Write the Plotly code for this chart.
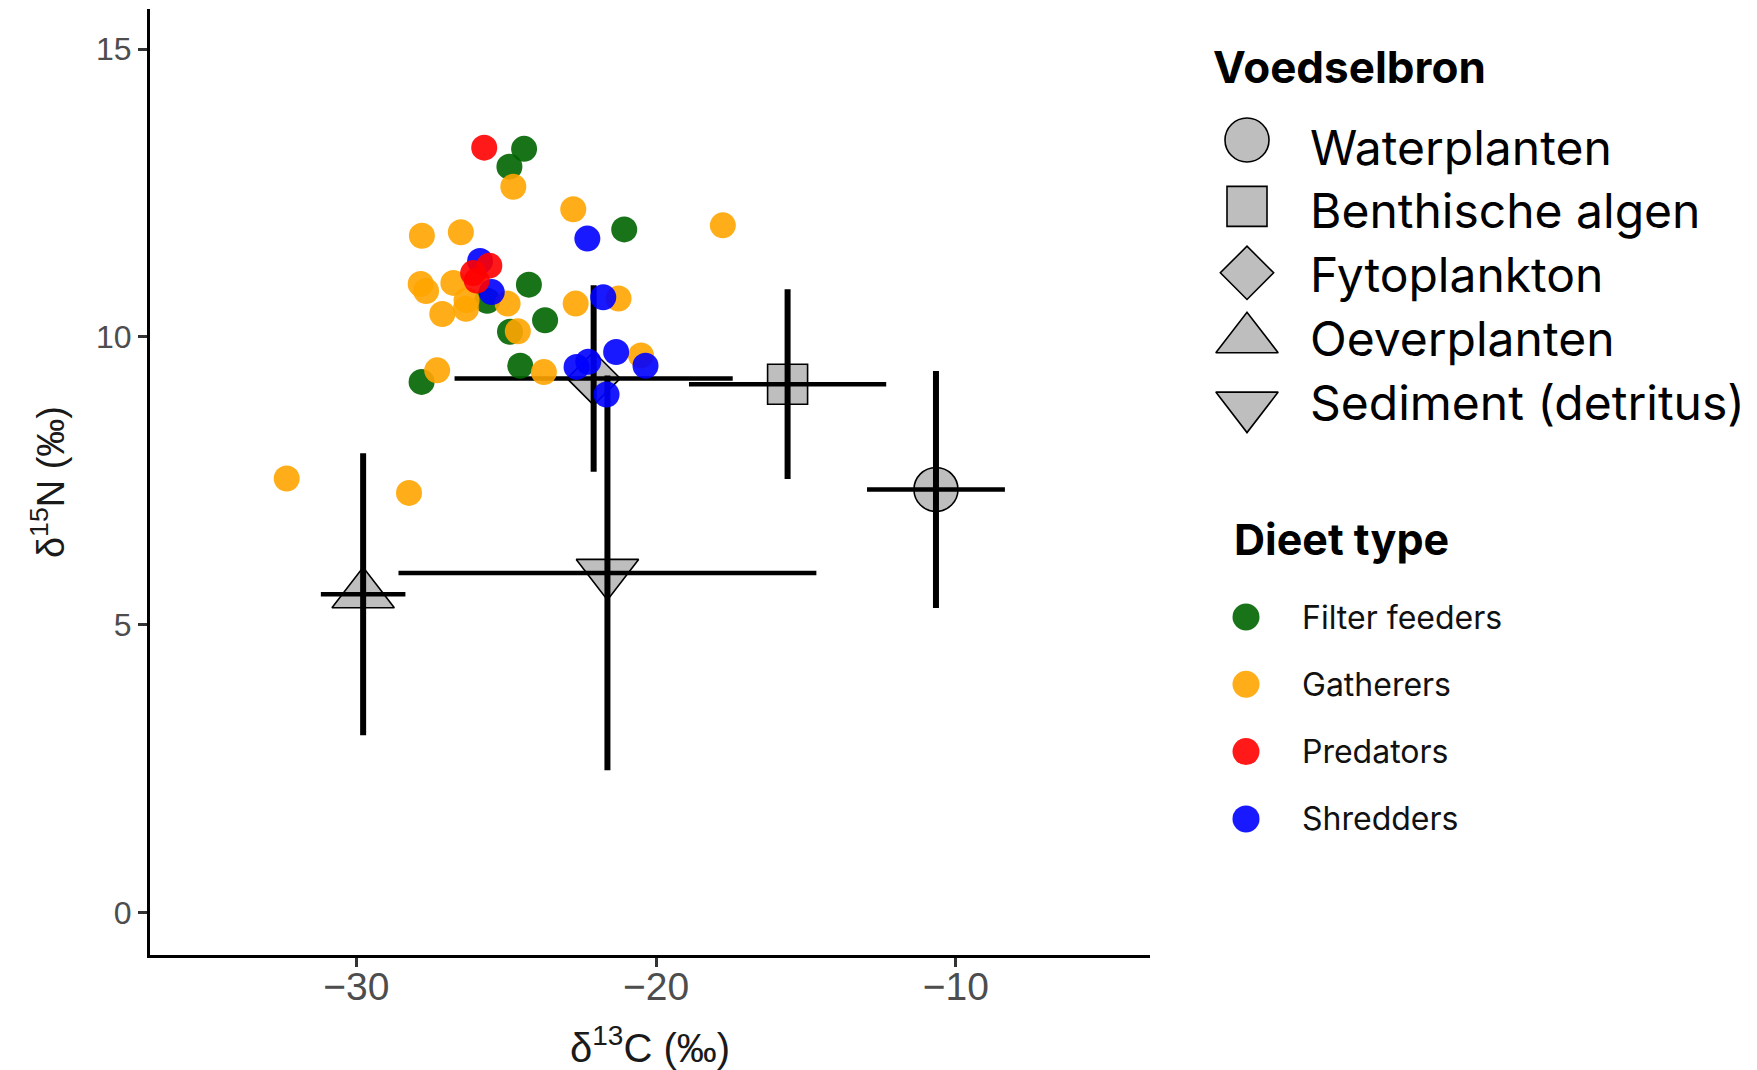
import plotly.graph_objects as go

W, H = 1757, 1070

# ---------------- Data ----------------
# Consumers (diet types)
diet_names = ["Filter feeders", "Gatherers", "Predators", "Shredders"]
diet_colors = ["#006400", "#FFA500", "#FF0000", "#0000FF"]

ff_c = [-24.40, -24.89, -21.06, -24.24, -25.63, -23.70, -24.87, -24.53, -27.82]
ff_n = [13.27, 12.96, 11.87, 10.91, 10.63, 10.29, 10.09, 9.50, 9.22]

ga_c = [-24.76, -22.76, -17.77, -27.81, -26.51, -27.85, -27.67, -26.76, -27.13, -26.34,
        -26.32, -24.95, -22.68, -21.25, -24.61, -27.30, -23.74, -20.50, -32.32, -28.24]
ga_n = [12.61, 12.22, 11.94, 11.76, 11.82, 10.92, 10.80, 10.94, 10.40, 10.49,
        10.64, 10.58, 10.58, 10.67, 10.10, 9.42, 9.39, 9.68, 7.54, 7.29]

pr_c = [-25.73, -25.56, -26.10, -25.98]
pr_n = [13.29, 11.24, 11.11, 10.98]

sh_c = [-25.87, -25.48, -22.29, -21.76, -21.33, -20.35, -22.65, -22.26, -21.65]
sh_n = [11.32, 10.78, 11.71, 10.69, 9.74, 9.50, 9.48, 9.57, 9.00]

# Food sources (mean +/- sd)
src_names = ["Waterplanten", "Benthische algen", "Fytoplankton", "Oeverplanten", "Sediment (detritus)"]
src_c_mean = [-10.66, -15.61, -22.08, -29.77, -21.62]
src_c_sd = [2.30, 3.29, 4.64, 1.41, 6.97]
src_n_mean = [7.35, 9.18, 9.28, 5.53, 5.90]
src_n_sd = [2.06, 1.65, 1.62, 2.45, 3.43]
src_symbols = ["circle", "square", "diamond", "triangle-up", "triangle-down"]
src_sizes = [44, 40, 41, 54, 54]

x_ticks = [-30, -20, -10]
y_ticks = [0, 5, 10, 15]

# ---------------- Figure ----------------
fig = go.Figure()

# source markers
for i, name in enumerate(src_names):
    fig.add_trace(go.Scatter(
        x=[src_c_mean[i]], y=[src_n_mean[i]], mode="markers", showlegend=False,
        marker=dict(symbol=src_symbols[i], size=src_sizes[i], color="#BEBEBE",
                    line=dict(color="black", width=1.6)),
        hoverinfo="skip"))

# error bars (drawn above source markers)
fig.add_trace(go.Scatter(
    x=src_c_mean, y=src_n_mean, mode="markers", showlegend=False,
    marker=dict(size=1, opacity=0),
    error_x=dict(type="data", array=src_c_sd, color="black", thickness=4.5, width=0),
    error_y=dict(type="data", array=src_n_sd, color="black", thickness=6, width=0),
    hoverinfo="skip"))

# consumers
consumer_sets = [(ff_c, ff_n, 0), (ga_c, ga_n, 1), (sh_c, sh_n, 3), (pr_c, pr_n, 2)]
for cx, cy, k in consumer_sets:
    fig.add_trace(go.Scatter(
        x=cx, y=cy, mode="markers", name=diet_names[k], showlegend=False,
        marker=dict(size=26, color=diet_colors[k], opacity=0.9, line=dict(width=0))))

# ---------------- Manual legends (pixel axes) ----------------
LX0 = 1180
# Legend 1: Voedselbron
sym_x = 1247
sym_y0, sym_dy = 140, 66.4
txt_y0, txt_dy = 147, 63.9
for i, name in enumerate(src_names):
    fig.add_trace(go.Scatter(
        x=[sym_x], y=[sym_y0 + i * sym_dy], xaxis="x2", yaxis="y2", mode="markers",
        showlegend=False, hoverinfo="skip",
        marker=dict(symbol=src_symbols[i], size=src_sizes[i], color="#BEBEBE",
                    line=dict(color="black", width=1.6))))
    fig.add_annotation(x=1308, y=txt_y0 + i * txt_dy, xref="x2", yref="y2", text=name,
                       showarrow=False, xanchor="left", yanchor="middle",
                       font=dict(family="Inter", size=48, color="black"))
fig.add_annotation(x=1211, y=67, xref="x2", yref="y2", text="<b>Voedselbron</b>",
                   showarrow=False, xanchor="left", yanchor="middle",
                   font=dict(family="Inter", size=44, color="black"))

# Legend 2: Dieet type
dot_x = 1246
dot_y0, dot_dy = 617, 67.3
for k, name in enumerate(diet_names):
    fig.add_trace(go.Scatter(
        x=[dot_x], y=[dot_y0 + k * dot_dy], xaxis="x2", yaxis="y2", mode="markers",
        showlegend=False, hoverinfo="skip",
        marker=dict(size=27, color=diet_colors[k], opacity=0.9)))
    fig.add_annotation(x=1300, y=dot_y0 + k * dot_dy, xref="x2", yref="y2", text=name,
                       showarrow=False, xanchor="left", yanchor="middle",
                       font=dict(family="Inter", size=32, color="#111111"))
fig.add_annotation(x=1232, y=539, xref="x2", yref="y2", text="<b>Dieet type</b>",
                   showarrow=False, xanchor="left", yanchor="middle",
                   font=dict(family="Inter", size=43, color="black"))

# ---------------- Layout ----------------
fig.update_layout(
    width=W, height=H,
    margin=dict(l=0, r=0, t=0, b=0),
    paper_bgcolor="white", plot_bgcolor="white",
    showlegend=False,
    xaxis=dict(
        domain=[150 / W, 1150 / W], range=[-36.88, -3.52], anchor="y",
        tickvals=x_ticks, showgrid=False, zeroline=False,
        showline=True, linecolor="black", linewidth=3,
        ticks="outside", ticklen=9, tickwidth=3, tickcolor="#333333",
        ticklabelstandoff=-14,
        tickfont=dict(family="Liberation Sans", size=39, color="#4D4D4D"),
        title=dict(text="δ<sup>13</sup>C (‰)", standoff=34,
                   font=dict(family="Liberation Sans", size=40, color="#1A1A1A")),
    ),
    yaxis=dict(
        domain=[115 / H, 1061 / H], range=[-0.74, 15.70], anchor="x",
        tickvals=y_ticks, showgrid=False, zeroline=False,
        showline=True, linecolor="black", linewidth=3,
        ticks="outside", ticklen=9, tickwidth=3, tickcolor="#333333",
        tickfont=dict(family="Liberation Sans", size=32, color="#4D4D4D"),
        title=dict(text="δ<sup>15</sup>N (‰)", standoff=20,
                   font=dict(family="Liberation Sans", size=38, color="#1A1A1A")),
    ),
    xaxis2=dict(domain=[LX0 / W, 1], range=[LX0, W], visible=False, anchor="y2",
                fixedrange=True),
    yaxis2=dict(domain=[0, 1], range=[H, 0], visible=False, anchor="x2",
                fixedrange=True),
)

fig.write_html("out.html")
